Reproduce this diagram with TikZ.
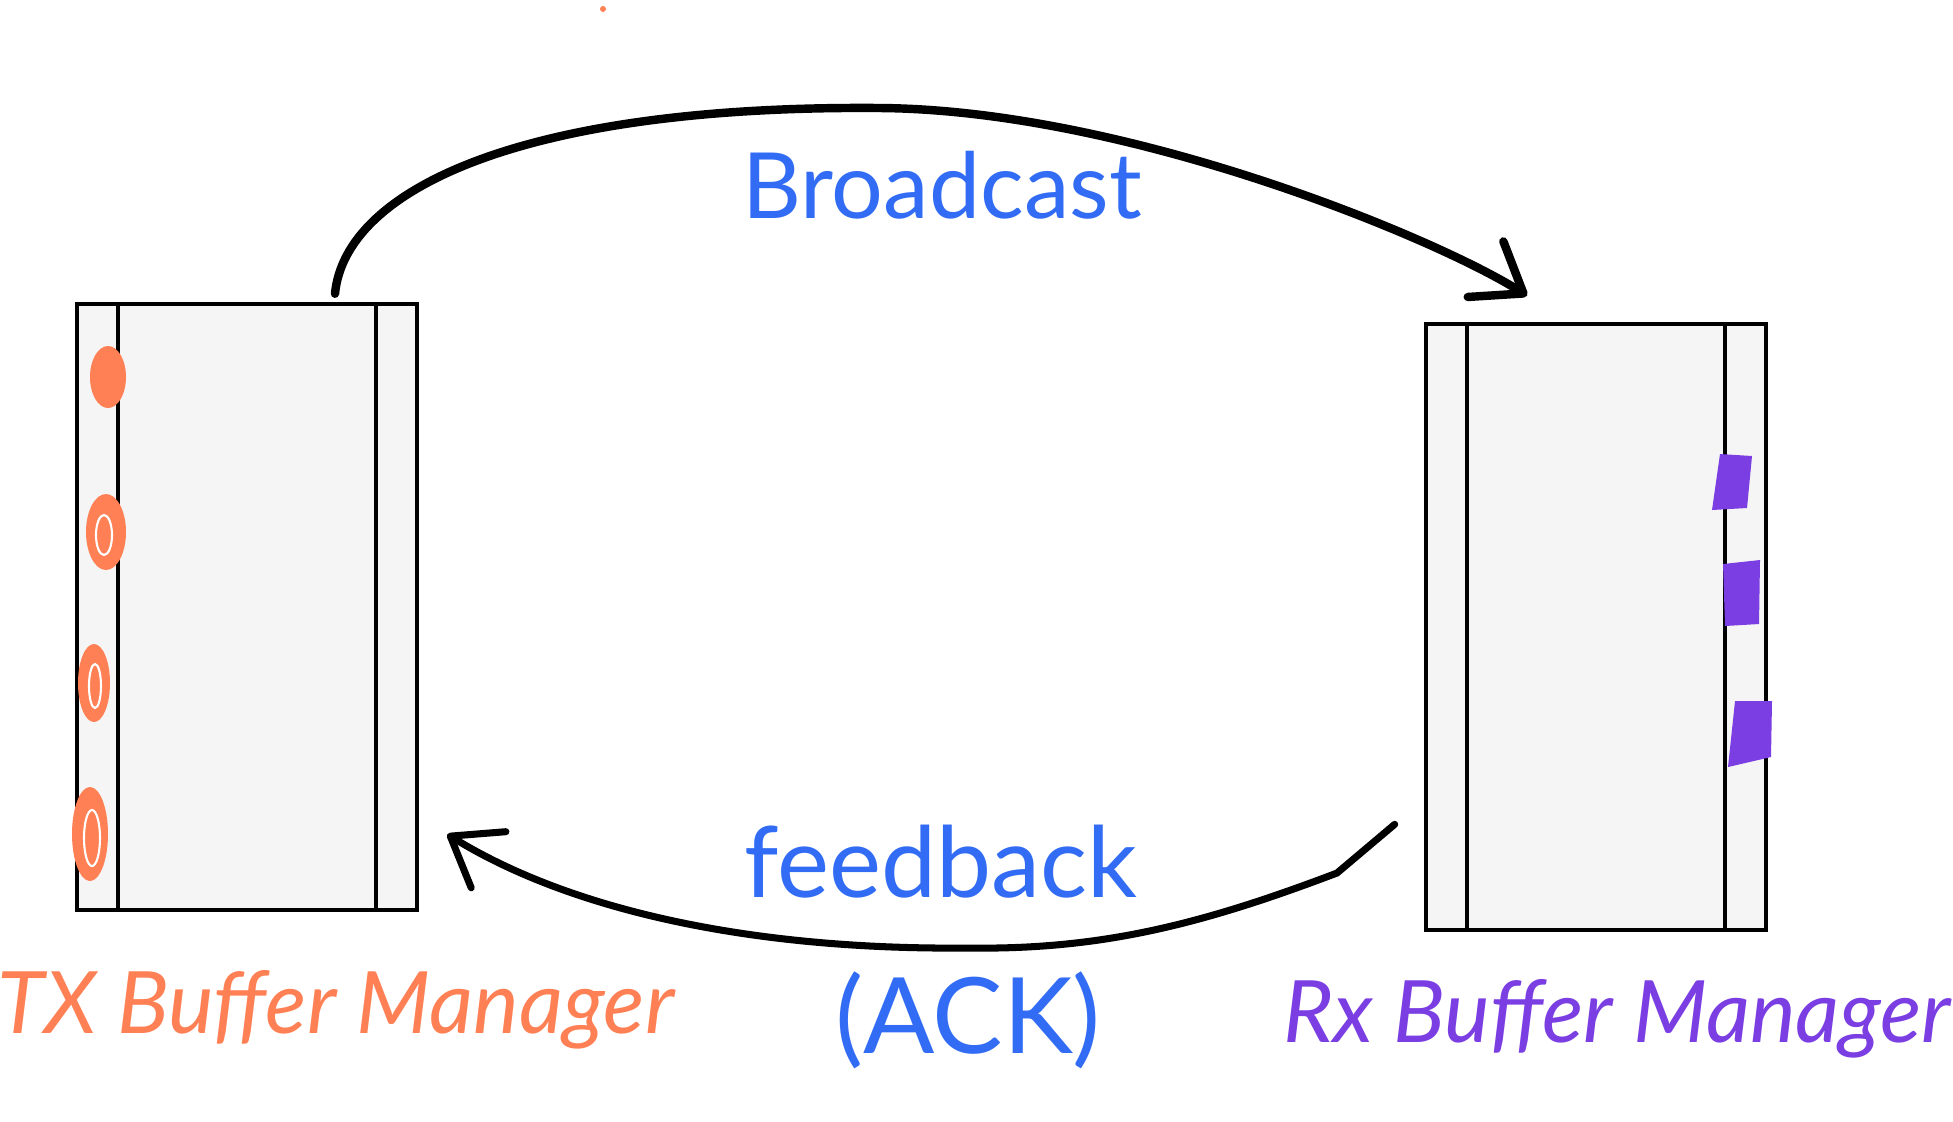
\documentclass[tikz,border=0pt]{standalone}
\usepackage{fontspec}
\setmainfont{Lato}
\usetikzlibrary{arrows.meta}
\definecolor{bufgrey}{RGB}{245,245,245}
\definecolor{txorange}{RGB}{255,128,84}
\definecolor{rxpurple}{RGB}{122,62,226}
\definecolor{inkblue}{RGB}{50,108,245}
\tikzset{
  buffer/.style={draw,fill=bufgrey,line width=1.3pt,inner sep=0pt,
    minimum width=34mm,minimum height=#1,
    path picture={
      \draw[line width=1.3pt] ([xshift=4.1mm]path picture bounding box.north west)
        -- ([xshift=4.1mm]path picture bounding box.south west); % left lane
      \draw[line width=1.3pt] ([xshift=-4.1mm]path picture bounding box.north east)
        -- ([xshift=-4.1mm]path picture bounding box.south east); % right lane
    }},
  sketch arrow/.style={line width=#1,line cap=round,
    -{Straight Barb[length=4.5mm,width=6.6mm,round]}},
  scribble/.style={draw=white,line width=0.6pt},
  manager/.style={anchor=base,font=\itshape\fontsize{24.5}{28}\selectfont},
  ink/.style={anchor=base,text=inkblue},
}

\begin{document}
\begin{tikzpicture}[x=0.1mm,y=-0.1mm]
		\useasboundingbox (0,0) rectangle (1953,1121);

		\node[buffer=60.6mm] (txbuf) at (247,607) {};
		\node[buffer=60.6mm] (rxbuf) at (1596,627) {};

		% entries in the tx buffer
		\fill[txorange] (108,377) ellipse [x radius=1.8mm,y radius=3.1mm];
		\fill[txorange] (106,532) ellipse [x radius=2mm,y radius=3.8mm];
		\fill[txorange] (94,683) ellipse [x radius=1.6mm,y radius=3.9mm];
		\fill[txorange] (90,834) ellipse [x radius=1.8mm,y radius=4.7mm];
		\draw[scribble] (104,535) ellipse [x radius=0.8mm,y radius=2mm];
		\draw[scribble] (95,686) ellipse [x radius=0.6mm,y radius=2.2mm];
		\draw[scribble] (92,838) ellipse [x radius=0.8mm,y radius=2.8mm];
		\fill[txorange] (603,9) circle [radius=0.3mm];

		% entries in the rx buffer
		\fill[rxpurple] (1720,454) -- (1752,456) -- (1747,508) -- (1712,510) -- cycle;
		\fill[rxpurple] (1723,564) -- (1760,560) -- (1759,624) -- (1725,626) -- cycle;
		\fill[rxpurple] (1735,701) -- (1772,701) -- (1771,757) -- (1728,767) -- cycle;

		\draw[sketch arrow=2.4pt]
		([xshift=8.8mm,yshift=0.8mm]txbuf.north) .. controls (345,190) and (520,105) .. (880,108)
		.. controls (1130,110) and (1440,240) .. ([xshift=-6.9mm,yshift=2.6mm]rxbuf.north);

		\draw[sketch arrow=2pt]
		([xshift=-2.9mm,yshift=10.8mm]rxbuf.south west) -- (1337,873)
		.. controls (1200,925) and (1100,950) .. (967,948)
		.. controls (750,950) and (570,910) .. ([xshift=2.8mm,yshift=7.8mm]txbuf.south east);

		\node[ink,font=\fontsize{26}{30}\selectfont] (bcast) at (942,218) {Broadcast};
		\node[ink,font=\fontsize{28}{32}\selectfont] (fback) at (941,897) {feedback};
		\node[ink,font=\fontsize{30}{34}\selectfont] (ack) at (968,1053) {(ACK)};

		\node[manager,text=txorange] (txlabel) at (336,1033) {TX Buffer Manager};
		\node[manager,text=rxpurple] (rxlabel) at (1617,1042) {Rx Buffer Manager};

\end{tikzpicture}
\end{document}
